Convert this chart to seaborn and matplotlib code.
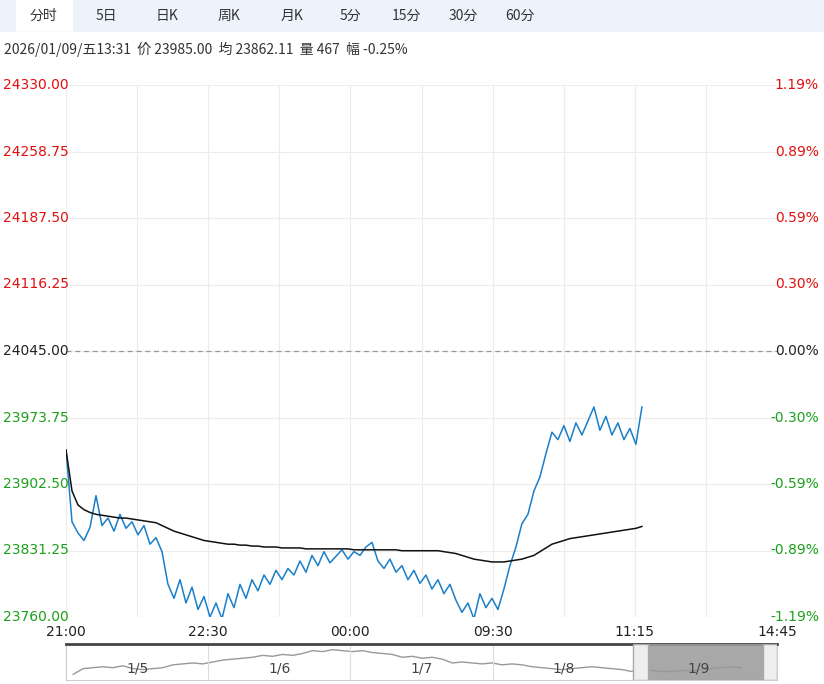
import matplotlib
matplotlib.use("Agg")
import matplotlib.pyplot as plt
from matplotlib import font_manager
import seaborn as sns
import pandas as pd
import numpy as np
from matplotlib.patches import Rectangle

cjk = None
for f in font_manager.fontManager.ttflist:
    if "CJK" in f.name and ("SC" in f.name or cjk is None):
        cjk = f.name
plt.rcParams["font.family"] = [cjk or "DejaVu Sans", "DejaVu Sans"]

tabs = ["分时", "5日", "日K", "周K", "月K", "5分", "15分", "30分", "60分"]
info = "2026/01/09/五13:31  价 23985.00  均 23862.11  量 467  幅 -0.25%"
x_labels = ["21:00", "22:30", "00:00", "09:30", "11:15", "14:45"]
y_ticks = [24330.00, 24258.75, 24187.50, 24116.25, 24045.00, 23973.75, 23902.50, 23831.25, 23760.00]
pct_labels = ["1.19%", "0.89%", "0.59%", "0.30%", "0.00%", "-0.30%", "-0.59%", "-0.89%", "-1.19%"]
base = 24045.00

price = [23939, 23862, 23850, 23842, 23856, 23890, 23858, 23866, 23852, 23870, 23855, 23862, 23848,
         23858, 23838, 23845, 23830, 23795, 23780, 23800, 23775, 23792, 23768, 23782, 23760, 23775,
         23758, 23785, 23770, 23795, 23780, 23800, 23788, 23805, 23795, 23810, 23800, 23812, 23805,
         23820, 23808, 23826, 23815, 23830, 23818, 23825, 23832, 23822, 23830, 23826, 23835, 23840,
         23820, 23812, 23822, 23808, 23815, 23800, 23810, 23796, 23805, 23790, 23800, 23785, 23795,
         23778, 23765, 23775, 23758, 23785, 23770, 23780, 23768, 23790, 23815, 23835, 23860, 23870,
         23895, 23910, 23935, 23958, 23950, 23965, 23948, 23968, 23955, 23970, 23985, 23960, 23975,
         23955, 23968, 23950, 23962, 23945, 23985]
avg = ([23939, 23895, 23880, 23875, 23872, 23870, 23869]
       + [23868, 23867, 23866, 23866, 23865, 23864, 23863, 23862, 23861]
       + [23858, 23855, 23852, 23850, 23848, 23846, 23844, 23842, 23841]
       + [23840, 23839, 23838, 23838, 23837, 23837, 23836, 23836, 23835, 23835, 23835, 23834, 23834, 23834, 23834]
       + [23833] * 8 + [23832] * 8 + [23831] * 7
       + [23830, 23829, 23828, 23826, 23824, 23822, 23821, 23820, 23819, 23819]
       + [23819, 23820, 23821, 23822, 23824, 23826, 23830, 23834, 23838, 23840, 23842, 23844, 23845,
          23846, 23847, 23848, 23849, 23850, 23851, 23852, 23853, 23854, 23855, 23857])

nav_days = ["1/5", "1/6", "1/7", "1/8", "1/9"]
nav_vals = [2, 8, 9, 10, 9, 11, 8, 7, 8, 9, 12, 13, 14, 13, 15, 17, 18, 19, 20, 22, 21, 23, 22, 24,
            27, 26, 28, 27, 26, 27, 25, 24, 23, 20, 21, 19, 20, 18, 14, 15, 14, 13, 14, 12, 13, 12,
            10, 9, 8, 7, 8, 9, 10, 9, 8, 7, 5, 9, 6, 5, 5, 6, 6, 7, 8, 9, 10, 9]

W, H = 824, 684
fig = plt.figure(figsize=(W / 100, H / 100), dpi=100)
fig.patch.set_facecolor("white")

bar = fig.add_axes([0, 1 - 32 / H, 1, 32 / H])
bar.set_xlim(0, W); bar.set_ylim(0, 32); bar.axis("off")
bar.add_patch(Rectangle((0, 0), W, 32, color="#edf3fb"))
bar.add_patch(Rectangle((16, 0), 56, 32, color="white"))
bar.plot([0, W], [0.5, 0.5], color="#dde6f2", lw=1)
tab_x = [44, 106, 167, 229, 292, 350, 406, 463, 520]
for t, tx in zip(tabs, tab_x):
    bar.text(tx, 16, t, ha="center", va="center", fontsize=10, color="#333333")
fig.text(4 / W, 1 - 49 / H, info, ha="left", va="center", fontsize=10, color="#333333")

L, R, T, B = 66, 777, 85, 617
ax = fig.add_axes([L / W, 1 - B / H, (R - L) / W, (B - T) / H])
n = len(price)
xs = np.linspace(0, 8.1, n)
df = pd.DataFrame({"x": xs, "price": price, "avg": avg})
sns.lineplot(data=df, x="x", y="price", ax=ax, color="#1a7fc9", lw=1.1)
sns.lineplot(data=df, x="x", y="avg", ax=ax, color="#111111", lw=1.1)
ax.set_xlim(0, 10)
ax.set_ylim(y_ticks[-1], y_ticks[0])
ax.set_xticks(range(11)); ax.set_yticks(y_ticks)
ax.grid(True, color="#ececec", lw=0.8)
ax.axhline(base, color="#999999", lw=0.9, ls=(0, (4, 3)))
for s in ax.spines.values():
    s.set_visible(False)
ax.tick_params(length=0, labelleft=False, labelbottom=False)
ax.set_xlabel(""); ax.set_ylabel("")
for v, p in zip(y_ticks, pct_labels):
    c = "#e0100f" if v > base else ("#222222" if v == base else "#1aa01a")
    ax.text(-(L - 3) / (R - L), v, f"{v:.2f}", transform=ax.get_yaxis_transform(), ha="left", va="center",
            fontsize=10, color=c, fontfamily="DejaVu Sans")
    ax.text(1.0 + 42 / (R - L), v, p, transform=ax.get_yaxis_transform(), ha="right", va="center",
            fontsize=10, color=c, fontfamily="DejaVu Sans")
for lab, xi in zip(x_labels, [0, 2, 4, 6, 8, 10]):
    ax.text(xi, -0.015, lab, transform=ax.get_xaxis_transform(), ha="center", va="top", fontsize=10,
            color="#222222", fontfamily="DejaVu Sans")

nv = fig.add_axes([L / W, 1 - 680 / H, (R - L) / W, 36 / H])
nx = np.linspace(0.1, 9.5, len(nav_vals))
sns.lineplot(x=nx, y=nav_vals, ax=nv, color="#999999", lw=1)
nv.set_xlim(0, 10); nv.set_ylim(-4, 34)
nv.set_xticks([]); nv.set_yticks([])
nv.set_xlabel(""); nv.set_ylabel("")
for s in nv.spines.values():
    s.set_color("#cccccc")
nv.spines["top"].set_color("#444444"); nv.spines["top"].set_linewidth(2)
for sx in [2, 4, 6, 7.97]:
    nv.axvline(sx, color="#dddddd", lw=0.8)
for d, cx in zip(nav_days, [1.0, 3.0, 5.0, 7.0, 8.9]):
    nv.text(cx, 8, d, ha="center", va="center", fontsize=10, color="#444444", fontfamily="DejaVu Sans", zorder=5)
nv.add_patch(Rectangle((8.0, -4), 1.9, 38, color="#999999", alpha=0.85, zorder=3))
nv.add_patch(Rectangle((7.98, -4), 0.2, 38, color="#eeeeee", ec="#aaaaaa", zorder=4))
nv.add_patch(Rectangle((9.8, -4), 0.2, 38, color="#eeeeee", ec="#aaaaaa", zorder=4))

fig.savefig("out.png", dpi=100)
